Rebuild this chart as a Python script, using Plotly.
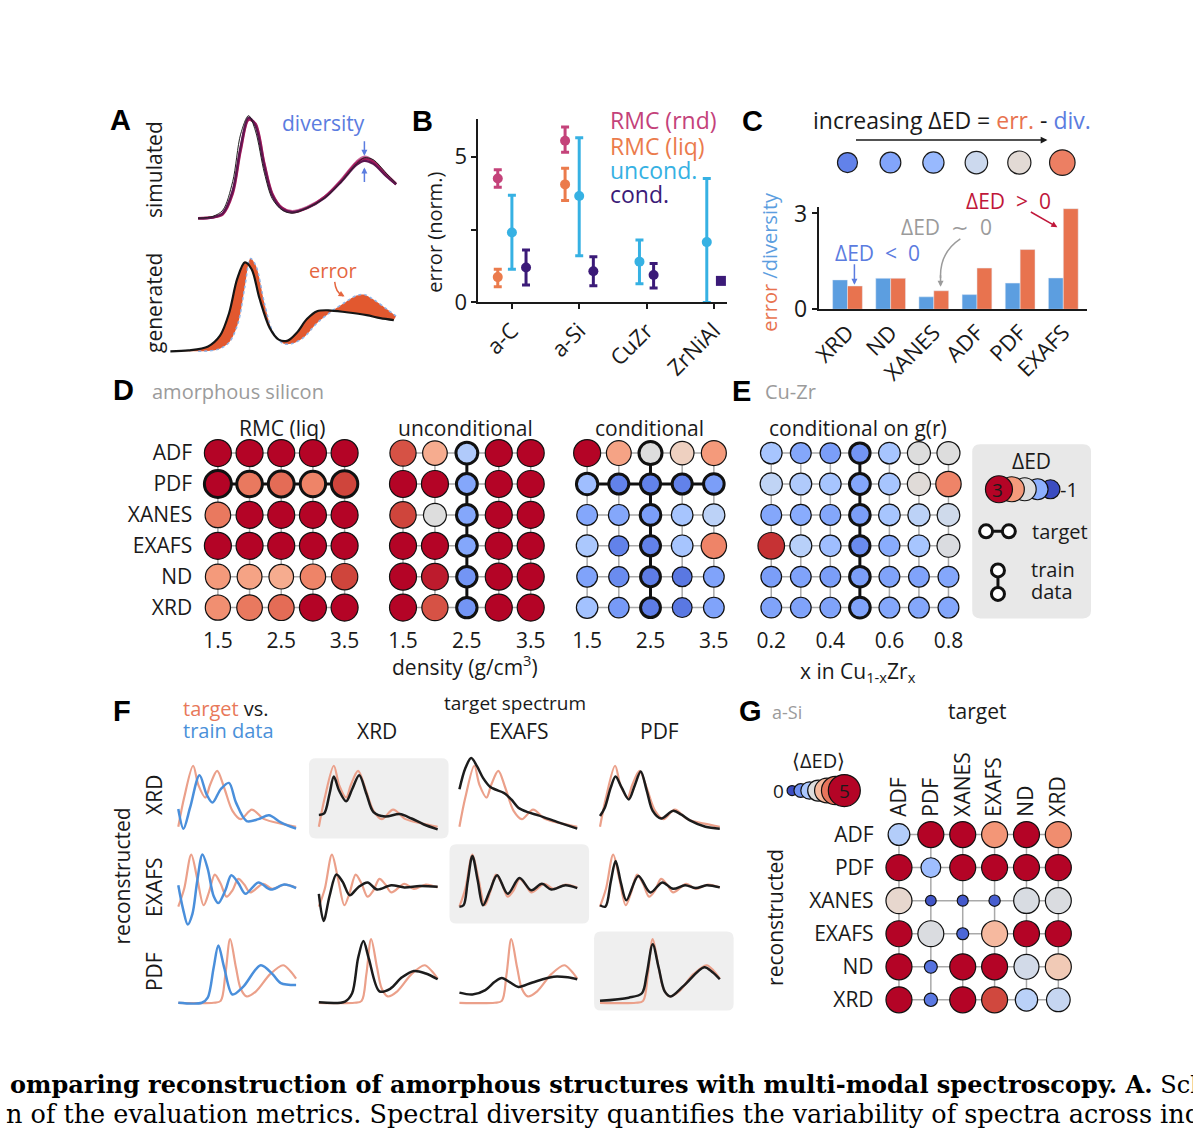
import plotly.graph_objects as go

W, H = 1193, 1142
FONT = "Open Sans"
BOLD = "Liberation Sans"
INK = "#1a1a1a"
GRAY_TXT = "#9b9b9b"
BLUE_TXT = "#5b7ce0"
ORANGE_TXT = "#e5663f"
NB = "\u00a0"

# ---------------- data ----------------
# A: simulated spectra (position u, intensity v, both normalised)
SIM_U = [0, 0.075, 0.125, 0.175, 0.215, 0.255, 0.29, 0.335, 0.375, 0.425, 0.475,
         0.55, 0.64, 0.725, 0.80, 0.84, 0.885, 0.95, 1.0]
SIM_BLACK = [0, 0.02, 0.08, 0.36, 0.82, 1.0, 0.85, 0.44, 0.19, 0.08, 0.05,
             0.10, 0.20, 0.36, 0.53, 0.59, 0.57, 0.44, 0.34]
SIM_PURPLE = [0, 0.01, 0.05, 0.27, 0.70, 0.98, 0.90, 0.50, 0.22, 0.09, 0.06,
              0.10, 0.20, 0.36, 0.52, 0.56, 0.53, 0.41, 0.33]
SIM_MAGENTA = [0, 0.01, 0.04, 0.24, 0.66, 0.96, 0.92, 0.53, 0.24, 0.10, 0.06,
               0.10, 0.21, 0.37, 0.54, 0.58, 0.55, 0.42, 0.33]
SIM_PLUM = [0, 0.01, 0.05, 0.26, 0.68, 0.97, 0.91, 0.52, 0.23, 0.10, 0.07,
            0.11, 0.21, 0.38, 0.55, 0.60, 0.56, 0.43, 0.34]

# A: generated (black) vs reference (filled) spectrum
GEN_U = [0, 0.08, 0.167, 0.22, 0.26, 0.296, 0.33, 0.36, 0.395, 0.44, 0.48, 0.52,
         0.56, 0.605, 0.65, 0.70, 0.78, 0.87, 0.93, 0.99]
GEN_V = [0, 0.01, 0.05, 0.16, 0.39, 0.74, 0.91, 0.84, 0.54, 0.24, 0.12, 0.11,
         0.19, 0.33, 0.41, 0.42, 0.40, 0.37, 0.34, 0.32]
REF_U = [0.123, 0.21, 0.26, 0.30, 0.33, 0.355, 0.38, 0.417, 0.456, 0.50, 0.54,
         0.59, 0.65, 0.715, 0.78, 0.825, 0.86, 0.90, 0.96, 1.0]
REF_V = [0, 0.02, 0.09, 0.29, 0.66, 0.95, 0.87, 0.49, 0.19, 0.08, 0.08,
         0.14, 0.29, 0.41, 0.51, 0.57, 0.58, 0.53, 0.43, 0.36]

# B: normalised error per system
SYSTEMS = ["a-C", "a-Si", "CuZr", "ZrNiAl"]
RND_MEAN = [4.25, 5.55, None, None]
RND_LO = [3.95, 5.15, None, None]
RND_HI = [4.55, 6.02, None, None]
LIQ_MEAN = [0.87, 4.05, None, None]
LIQ_LO = [0.54, 3.50, None, None]
LIQ_HI = [1.14, 4.60, None, None]
UNCOND_MEAN = [2.40, 3.65, 1.40, 2.07]
UNCOND_LO = [1.14, 1.60, 0.64, 0.0]
UNCOND_HI = [3.68, 5.65, 2.14, 4.25]
COND_MEAN = [1.20, 1.07, 0.94, 0.74]
COND_LO = [0.60, 0.57, 0.50, 0.74]
COND_HI = [1.80, 1.57, 1.34, 0.74]

# C: error / diversity per modality
C_MODALITIES = ["XRD", "ND", "XANES", "ADF", "PDF", "EXAFS"]
C_DIVERSITY = [0.92, 0.97, 0.39, 0.46, 0.82, 0.98]
C_ERROR = [0.73, 0.97, 0.58, 1.29, 1.87, 3.15]
C_SCALE_DED = [-0.5, -0.12, 0.12, 0.75, 1.08, 2.25]

# D / E: ΔED grids (rows = spectra, columns = density or composition)
SPECTRA = ["ADF", "PDF", "XANES", "EXAFS", "ND", "XRD"]
DENSITY = [1.5, 2.0, 2.5, 3.0, 3.5]
CUZR_X = [0.2, 0.3, 0.4, 0.5, 0.6, 0.7, 0.8]

RMC_DED = [
    [3.5, 3.5, 3.5, 3.5, 3.5],
    [3.5, 2.3, 2.4, 2.2, 2.7],
    [2.3, 3.5, 3.5, 3.5, 3.5],
    [3.5, 3.5, 3.5, 3.5, 3.5],
    [2.0, 1.9, 1.8, 2.2, 2.7],
    [2.1, 2.3, 2.4, 3.5, 3.5],
]
UNCOND_DED = [
    [2.6, 1.8, 0.4, 3.5, 3.5],
    [3.5, 3.5, -0.1, 3.5, 3.5],
    [2.7, 1.0, -0.1, 3.5, 3.5],
    [3.5, 3.5, -0.1, 3.5, 3.5],
    [3.5, 2.9, -0.3, 3.5, 3.5],
    [3.5, 2.6, -0.3, 3.5, 3.5],
]
COND_DED = [
    [3.5, 1.9, 1.0, 1.3, 2.0],
    [0.2, -0.5, -0.5, -0.5, -0.2],
    [-0.1, -0.1, -0.2, 0.3, 0.55],
    [0.35, -0.5, -0.5, 0.3, 2.2],
    [-0.15, -0.4, -0.55, -0.6, -0.15],
    [0.25, -0.25, -0.55, -0.6, -0.15],
]
CUZR_DED = [
    [0.3, -0.1, -0.2, -0.3, 0.3, 1.0, 1.0],
    [0.6, 0.4, 0.3, -0.1, 0.3, 1.05, 2.2],
    [-0.1, -0.05, -0.1, -0.2, 0.3, 0.55, 0.8],
    [2.8, 0.5, 0.2, -0.4, -0.05, 0.3, 0.95],
    [-0.2, -0.15, -0.2, -0.2, -0.15, -0.15, -0.1],
    [-0.15, -0.15, -0.15, -0.15, -0.1, -0.1, -0.1],
]
RMC_TARGET_ROWS, RMC_TARGET_COLS = ["PDF"], []
UNCOND_TARGET_ROWS, UNCOND_TARGET_COLS = [], [2.5]
COND_TARGET_ROWS, COND_TARGET_COLS = ["PDF"], [2.5]
CUZR_TARGET_ROWS, CUZR_TARGET_COLS = [], [0.5]
LEGEND_DED = [-1, 0, 1, 2, 3]

# F: spectra (u, v) per row modality
XRD_TARGET_U = [0, 0.05, 0.126, 0.17, 0.23, 0.27, 0.33, 0.39, 0.46, 0.53, 0.625, 0.73, 0.87, 1.0]
XRD_TARGET_V = [0.03, 0.49, 0.99, 0.69, 0.49, 0.69, 0.91, 0.64, 0.28, 0.15, 0.30, 0.15, 0.08, 0.03]
XRD_TRAIN_U = [0, 0.044, 0.10, 0.18, 0.24, 0.29, 0.36, 0.43, 0.49, 0.58, 0.68, 0.77, 0.87, 1.0]
XRD_TRAIN_V = [0.31, 0.0, 0.33, 0.84, 0.54, 0.41, 0.62, 0.72, 0.41, 0.12, 0.15, 0.21, 0.10, 0.0]
XRD_REC_XRD_U = [0, 0.045, 0.09, 0.126, 0.17, 0.23, 0.28, 0.34, 0.40, 0.46, 0.56, 0.68, 0.78, 0.88, 1.0]
XRD_REC_XRD_V = [0.215, 0.24, 0.55, 0.82, 0.60, 0.43, 0.62, 0.84, 0.55, 0.26, 0.19, 0.23, 0.16, 0.07, -0.01]
XRD_REC_EXAFS_U = [0, 0.05, 0.10, 0.15, 0.20, 0.26, 0.30, 0.38, 0.44, 0.50, 0.58, 0.67, 0.84, 1.0]
XRD_REC_EXAFS_V = [0.62, 0.95, 1.11, 0.98, 0.80, 0.66, 0.62, 0.56, 0.46, 0.33, 0.26, 0.21, 0.10, 0.0]
XRD_REC_PDF_U = [0, 0.04, 0.09, 0.13, 0.18, 0.24, 0.29, 0.34, 0.39, 0.44, 0.51, 0.61, 0.68, 0.75, 0.88, 1.0]
XRD_REC_PDF_V = [0.2, 0.33, 0.65, 0.82, 0.65, 0.46, 0.68, 0.90, 0.60, 0.28, 0.16, 0.28, 0.22, 0.13, 0.03, 0.0]

EXAFS_TARGET_U = [0, 0.05, 0.11, 0.16, 0.215, 0.26, 0.31, 0.36, 0.41, 0.46, 0.51, 0.56, 0.61, 0.72, 0.80, 0.90, 1.0]
EXAFS_TARGET_V = [0.25, 0.50, 0.98, 0.65, 0.27, 0.45, 0.70, 0.57, 0.39, 0.48, 0.64, 0.56, 0.45, 0.57, 0.50, 0.56, 0.52]
EXAFS_TRAIN_U = [0, 0.04, 0.08, 0.12, 0.16, 0.205, 0.25, 0.30, 0.34, 0.40, 0.45, 0.51, 0.57, 0.68, 0.785, 0.90, 1.0]
EXAFS_TRAIN_V = [0.55, 0.22, 0.0, 0.15, 0.60, 0.98, 0.78, 0.40, 0.30, 0.48, 0.69, 0.58, 0.43, 0.59, 0.49, 0.56, 0.51]
EXAFS_REC_XRD_U = [0, 0.04, 0.09, 0.147, 0.20, 0.26, 0.33, 0.41, 0.49, 0.61, 0.72, 0.85, 1.0]
EXAFS_REC_XRD_V = [0.43, 0.05, 0.40, 0.70, 0.60, 0.41, 0.52, 0.59, 0.49, 0.55, 0.52, 0.54, 0.53]
EXAFS_REC_EXAFS_U = [0, 0.035, 0.07, 0.11, 0.155, 0.20, 0.26, 0.32, 0.41, 0.51, 0.61, 0.70, 0.78, 0.90, 1.0]
EXAFS_REC_EXAFS_V = [0.25, 0.27, 0.60, 0.96, 0.62, 0.27, 0.48, 0.69, 0.43, 0.65, 0.48, 0.57, 0.49, 0.55, 0.51]
EXAFS_REC_PDF_U = [0, 0.045, 0.09, 0.13, 0.175, 0.22, 0.32, 0.42, 0.52, 0.61, 0.71, 0.80, 0.89, 1.0]
EXAFS_REC_PDF_V = [0.27, 0.25, 0.60, 0.89, 0.58, 0.34, 0.68, 0.45, 0.59, 0.50, 0.55, 0.51, 0.55, 0.52]

PDF_TARGET_U = [0, 0.30, 0.36, 0.40, 0.44, 0.49, 0.53, 0.58, 0.66, 0.78, 0.89, 0.95, 1.0]
PDF_TARGET_V = [0, 0.0, 0.03, 0.45, 1.0, 0.55, 0.22, 0.10, 0.18, 0.45, 0.59, 0.50, 0.38]
PDF_TRAIN_U = [0, 0.20, 0.25, 0.30, 0.34, 0.39, 0.46, 0.55, 0.70, 0.80, 0.87, 1.0]
PDF_TRAIN_V = [0, 0.0, 0.08, 0.55, 0.90, 0.55, 0.13, 0.25, 0.59, 0.45, 0.31, 0.28]
PDF_REC_XRD_U = [0, 0.22, 0.28, 0.33, 0.375, 0.42, 0.51, 0.60, 0.70, 0.80, 0.90, 1.0]
PDF_REC_XRD_V = [0.01, 0.02, 0.15, 0.70, 0.97, 0.70, 0.18, 0.22, 0.40, 0.50, 0.46, 0.37]
PDF_REC_EXAFS_U = [0, 0.11, 0.22, 0.30, 0.36, 0.43, 0.50, 0.62, 0.80, 0.92, 1.0]
PDF_REC_EXAFS_V = [0.16, 0.13, 0.20, 0.33, 0.39, 0.32, 0.25, 0.32, 0.41, 0.40, 0.37]
PDF_REC_PDF_U = [0, 0.24, 0.35, 0.39, 0.44, 0.49, 0.54, 0.59, 0.70, 0.87, 0.94, 1.0]
PDF_REC_PDF_V = [0.03, 0.08, 0.15, 0.45, 0.92, 0.55, 0.18, 0.10, 0.27, 0.56, 0.48, 0.37]

# G: <ΔED> matrix (rows reconstructed, columns target)
G_LABELS = ["ADF", "PDF", "XANES", "EXAFS", "ND", "XRD"]
G_DED = [
    [1.8, 5.5, 5.5, 3.8, 5.5, 3.9],
    [5.5, 1.5, 5.5, 5.5, 5.5, 5.5],
    [2.7, 0.1, 0.15, 0.2, 2.4, 2.45],
    [5.5, 2.45, 0.3, 3.3, 5.5, 5.5],
    [5.5, 0.45, 5.5, 5.5, 2.3, 3.0],
    [5.5, 0.5, 5.5, 4.6, 1.9, 2.1],
]
G_LEGEND = [0, 0.83, 1.67, 2.5, 3.33, 4.17, 5]

# ---------------- styling helpers ----------------
COOLWARM = [
    [0.0, "rgb(59,76,192)"], [0.0625, "rgb(77,104,215)"], [0.125, "rgb(98,130,234)"],
    [0.1875, "rgb(119,154,247)"], [0.25, "rgb(141,176,254)"], [0.3125, "rgb(163,194,255)"],
    [0.375, "rgb(184,208,249)"], [0.4375, "rgb(204,217,238)"], [0.5, "rgb(221,221,221)"],
    [0.5625, "rgb(236,211,197)"], [0.625, "rgb(245,196,172)"], [0.6875, "rgb(247,177,148)"],
    [0.75, "rgb(244,154,123)"], [0.8125, "rgb(236,127,99)"], [0.875, "rgb(222,96,77)"],
    [0.9375, "rgb(203,62,56)"], [1.0, "rgb(180,4,38)"],
]

fig = go.Figure()
layout = {}
annotations = []
shapes = []
n_axes = [0]


def P(x, y):
    return f"{x / W:.5f},{1 - y / H:.5f}"


def dom(m, r):
    v0, p0, v1, p1 = m
    return [p0 + (q - v0) * (p1 - p0) / (v1 - v0) for q in r]


def add_axes(xmap, xr, ymap, yr, xextra=None, yextra=None):
    n_axes[0] += 1
    k = "" if n_axes[0] == 1 else str(n_axes[0])
    xp = sorted(dom(xmap, xr))
    yp = sorted(dom(ymap, yr))
    base = dict(showgrid=False, zeroline=False, showline=False, showticklabels=False,
                ticks="", fixedrange=True)
    xa = dict(base, domain=[xp[0] / W, xp[1] / W], range=xr, anchor="y" + k)
    ya = dict(base, domain=[1 - yp[1] / H, 1 - yp[0] / H], range=yr, anchor="x" + k)
    xa.update(xextra or {})
    ya.update(yextra or {})
    layout["xaxis" + k] = xa
    layout["yaxis" + k] = ya
    return "x" + k, "y" + k


def text(x, y, s, size=21, color=INK, xanchor="center", angle=0, family=FONT):
    annotations.append(dict(x=x / W, y=1 - y / H, xref="paper", yref="paper", text=s,
                            showarrow=False, xanchor=xanchor, yanchor="middle",
                            textangle=angle, font=dict(size=size, color=color, family=family)))


def letter(x, y, s):
    text(x, y, f"<b>{s}</b>", size=29, family=BOLD, color="#000")


def arrow(x0, y0, x1, y1, color, width=1.5, head=2, size=1.0):
    annotations.append(dict(x=x1 / W, y=1 - y1 / H, ax=x0 - x1, ay=y0 - y1,
                            xref="paper", yref="paper", axref="pixel", ayref="pixel",
                            text="", showarrow=True, arrowhead=head, arrowsize=size,
                            arrowwidth=width, arrowcolor=color, standoff=0))


def curve_path(path, color, width=1.5):
    shapes.append(dict(type="path", xref="paper", yref="paper", path=path,
                       line=dict(color=color, width=width)))


def rounded_box(x0, y0, x1, y1, r, fill):
    path = (f"M {P(x0 + r, y0)} L {P(x1 - r, y0)} Q {P(x1, y0)} {P(x1, y0 + r)} "
            f"L {P(x1, y1 - r)} Q {P(x1, y1)} {P(x1 - r, y1)} L {P(x0 + r, y1)} "
            f"Q {P(x0, y1)} {P(x0, y1 - r)} L {P(x0, y0 + r)} Q {P(x0, y0)} {P(x0 + r, y0)} Z")
    shapes.append(dict(type="path", xref="paper", yref="paper", path=path,
                       fillcolor=fill, line=dict(width=0), layer="below"))


def line(ax, x, y, color, width, spline=True, **kw):
    fig.add_trace(go.Scatter(
        x=x, y=y, xaxis=ax[0], yaxis=ax[1], mode="lines",
        line=dict(color=color, width=width, shape="spline" if spline else "linear",
                  smoothing=0.9),
        hoverinfo="skip", showlegend=False, **kw))


def dots(ax, x, y, **marker):
    fig.add_trace(go.Scatter(
        x=x, y=y, xaxis=ax[0], yaxis=ax[1], mode="markers", cliponaxis=False,
        hoverinfo="skip", showlegend=False, marker=dict(opacity=1, **marker)))


def ded_size(v):
    return max(19, min(27, 21 + 2 * v))


def g_size(v):
    return min(26, 10 + 6.5 * v)


def tickfont(size):
    return dict(size=size, family=FONT, color=INK)


# ---------------- A ----------------
letter(112, 112, "A")
ax = add_axes((0, 190, 1, 390), [-0.02, 1.02], (0, 213, 1, 108), [-0.05, 1.1])
line(ax, SIM_U, SIM_PLUM, "#c46a9a", 2.5)
line(ax, SIM_U, SIM_MAGENTA, "#a3195b", 2.5)
line(ax, SIM_U, SIM_PURPLE, "#5e1650", 2.2)
line(ax, SIM_U, SIM_BLACK, "#222222", 1.0)
text(146, 163, "simulated")
annotations[-1]["textangle"] = -90
text(317, 116, "diversity", color=BLUE_TXT)
arrow(358, 133, 358, 149, BLUE_TXT, width=1.5, head=2, size=0.8)
arrow(358, 177, 358, 161, BLUE_TXT, width=1.5, head=2, size=0.8)

ax = add_axes((0, 162, 1, 390), [-0.02, 1.02], (0, 349, 1, 249), [-0.05, 1.08])
line(ax, GEN_U, GEN_V, "rgba(0,0,0,0)", 1)
line(ax, REF_U, REF_V, "#8fb3e6", 1.5, fill="tonexty", fillcolor="#e2582f")
fig.data[-1].line.dash = "dot"
line(ax, GEN_U, GEN_V, "#151515", 2.2)
text(146, 300, "generated", angle=-90)
text(326, 266, "error", size=20, color=ORANGE_TXT)
curve_path(f"M {P(328, 278)} Q {P(329, 289)} {P(336, 292)}", ORANGE_TXT, 1.5)
arrow(333, 290, 338, 293, ORANGE_TXT, width=1.5, head=2, size=0.8)

# ---------------- B ----------------
letter(417, 113, "B")
ax = add_axes((0, 507, 3, 711), [-0.5, 3.2], (0, 299, 5, 150), [0, 6.3],
              xextra=dict(showline=True, linecolor=INK, linewidth=1.5, ticks="outside",
                          ticklen=5, tickwidth=1.5, tickcolor=INK, showticklabels=True,
                          tickvals=list(range(len(SYSTEMS))), ticktext=SYSTEMS,
                          tickangle=-45, tickfont=tickfont(22)),
              yextra=dict(showline=True, linecolor=INK, linewidth=1.5, ticks="outside",
                          ticklen=5, tickwidth=1.5, tickcolor=INK, showticklabels=True,
                          tickvals=[0, 2.5, 5], ticktext=["0", "", "5"],
                          tickfont=tickfont(22)))

B_SERIES = [
    ("rnd", 0, RND_MEAN, RND_LO, RND_HI, "#c4427a"),
    ("liq", 0, LIQ_MEAN, LIQ_LO, LIQ_HI, "#eb7b4c"),
    ("uncond", 1, UNCOND_MEAN, UNCOND_LO, UNCOND_HI, "#36b1e3"),
    ("cond", 2, COND_MEAN, COND_LO, COND_HI, "#3b1a78"),
]


def slot_offset(i, slot):
    present = sorted({s[1] for s in B_SERIES if s[2][i] is not None})
    n = len(present)
    return (present.index(slot) - (n - 1) / 2) * 0.21


for name, slot, mean, lo, hi, color in B_SERIES:
    idx = [i for i, m in enumerate(mean) if m is not None]
    xs = [i + slot_offset(i, slot) for i in idx]
    ys = [mean[i] for i in idx]
    sym = ["square" if hi[i] == lo[i] else "circle" for i in idx]
    fig.add_trace(go.Scatter(
        x=xs, y=ys, xaxis=ax[0], yaxis=ax[1], mode="markers",
        marker=dict(color=color, size=10, symbol=sym, opacity=1),
        error_y=dict(type="data", symmetric=False,
                     array=[hi[i] - mean[i] for i in idx],
                     arrayminus=[mean[i] - lo[i] for i in idx],
                     color=color, thickness=3, width=4),
        cliponaxis=False, hoverinfo="skip", showlegend=False))

text(604, 112, "RMC (rnd)", size=23, color="#c4427a", xanchor="left")
text(604, 139, "RMC (liq)", size=23, color="#eb7b4c", xanchor="left")
text(604, 164, "uncond.", size=23, color="#36b1e3", xanchor="left")
text(604, 188, "cond.", size=23, color="#3b1a78", xanchor="left")
text(428, 227, "error (norm.)", size=20, angle=-90)

# ---------------- C ----------------
letter(750, 113, "C")
text(809, 112, f'increasing ΔED{NB}={NB}<span style="color:#e8734f">err.</span> - '
     '<span style="color:#5b7ce0">div.</span>', size=23, xanchor="left")
arrow(855, 133, 1048, 133, INK, width=1.5, head=2, size=0.9)
ax = add_axes((0, 846, 5, 1063), [-0.6, 5.6], (0, 156, 1, 146), [-1, 1])
dots(ax, list(range(len(C_SCALE_DED))), [0] * len(C_SCALE_DED),
     color=C_SCALE_DED, colorscale=COOLWARM, cmin=-1, cmax=3,
     size=[ded_size(v) for v in C_SCALE_DED], line=dict(color=INK, width=1.2))

ax = add_axes((0, 846, 5, 1064), [-0.67, 5.55], (0, 306, 3, 208), [0, 3.2],
              xextra=dict(showline=True, linecolor=INK, linewidth=1.5, showticklabels=True,
                          tickvals=list(range(len(C_MODALITIES))), ticktext=C_MODALITIES,
                          tickangle=-45, tickfont=tickfont(22)),
              yextra=dict(showline=True, linecolor=INK, linewidth=1.5, ticks="outside",
                          ticklen=5, tickwidth=1.5, tickcolor=INK, showticklabels=True,
                          tickvals=[0, 3], tickfont=tickfont(23)))
x_c = list(range(len(C_MODALITIES)))
fig.add_trace(go.Bar(x=x_c, y=C_DIVERSITY, xaxis=ax[0], yaxis=ax[1], marker_color="#5c9ee0",
                     offsetgroup="div", hoverinfo="skip", showlegend=False))
fig.add_trace(go.Bar(x=x_c, y=C_ERROR, xaxis=ax[0], yaxis=ax[1], marker_color="#e8734f",
                     offsetgroup="err", hoverinfo="skip", showlegend=False))
text(767, 257, '<span style="color:#e8734f">error</span> '
     '<span style="color:#5c9ee0">/diversity</span>', size=20, angle=-90)
text(876, 248, f"ΔED{NB}{NB}&lt;{NB}{NB}0", size=21, color=BLUE_TXT)
arrow(853, 259, 853, 281, BLUE_TXT, width=1.5, head=2, size=0.8)
text(946, 222, f"ΔED{NB}{NB}∼{NB}{NB}0", size=21, color=GRAY_TXT)
curve_path(f"M {P(960, 234)} Q {P(939, 248)} {P(940, 274)}", GRAY_TXT, 1.5)
arrow(940, 270, 940, 283, GRAY_TXT, width=1.5, head=2, size=0.8)
text(1009, 195, f"ΔED{NB}{NB}&gt;{NB}{NB}0", size=21, color="#c0173a")
arrow(1030, 206, 1058, 222, "#c0173a", width=1.5, head=2, size=0.8)

# ---------------- D / E grids ----------------
letter(115, 388, "D")
text(141, 390, "amorphous silicon", size=20, color=GRAY_TXT, xanchor="left")
letter(739, 390, "E")
text(761, 390, "Cu-Zr", size=20, color=GRAY_TXT, xanchor="left")

ROW_MAP = (0, 453, 5, 611)
ROW_RANGE = [5.45, -0.45]


def grid_panel(ax, xs, values, target_rows, target_cols, cmin, cmax, size_fn):
    rows = list(range(len(values)))
    for i in rows:
        line(ax, xs, [i] * len(xs), "#a9a9a9", 1.5, spline=False)
    for x in xs:
        line(ax, [x] * len(rows), rows, "#a9a9a9", 1.5, spline=False)
    for r in target_rows:
        i = SPECTRA.index(r)
        line(ax, xs, [i] * len(xs), "#111111", 3, spline=False)
    for c in target_cols:
        line(ax, [c] * len(rows), rows, "#111111", 3, spline=False)
    mx, my, mv, lw = [], [], [], []
    for i, row in enumerate(values):
        for j, v in enumerate(row):
            mx.append(xs[j])
            my.append(i)
            mv.append(v)
            thick = SPECTRA[i] in target_rows or xs[j] in target_cols
            lw.append(3 if thick else 1.2)
    dots(ax, mx, my, color=mv, colorscale=COOLWARM, cmin=cmin, cmax=cmax,
         size=[size_fn(v) for v in mv], line=dict(color="#111111", width=lw))


def xticks(vals, labels):
    return dict(showticklabels=True, tickvals=vals, ticktext=labels, ticklabelstandoff=4,
                tickfont=tickfont(21))


row_ticks = dict(showticklabels=True, tickvals=list(range(len(SPECTRA))), ticktext=SPECTRA,
                 ticklabelstandoff=12, tickfont=tickfont(21))

ax = add_axes((1.5, 210, 3.5, 338), [1.3, 3.7], ROW_MAP, ROW_RANGE,
              xextra=xticks([1.5, 2.5, 3.5], ["1.5", "2.5", "3.5"]), yextra=row_ticks)
grid_panel(ax, DENSITY, RMC_DED, RMC_TARGET_ROWS, RMC_TARGET_COLS, -1, 3, ded_size)
text(275, 427, "RMC (liq)")

ax = add_axes((1.5, 397, 3.5, 526), [1.3, 3.7], ROW_MAP, ROW_RANGE,
              xextra=xticks([1.5, 2.5, 3.5], ["1.5", "2.5", "3.5"]))
grid_panel(ax, DENSITY, UNCOND_DED, UNCOND_TARGET_ROWS, UNCOND_TARGET_COLS, -1, 3, ded_size)
text(460, 427, "unconditional")
text(460, 670, "density (g/cm<sup>3</sup>)")

ax = add_axes((1.5, 583, 3.5, 711), [1.3, 3.7], ROW_MAP, ROW_RANGE,
              xextra=xticks([1.5, 2.5, 3.5], ["1.5", "2.5", "3.5"]))
grid_panel(ax, DENSITY, COND_DED, COND_TARGET_ROWS, COND_TARGET_COLS, -1, 3, ded_size)
text(646, 427, "conditional")

ax = add_axes((0.2, 769, 0.8, 948), [0.15, 0.85], ROW_MAP, ROW_RANGE,
              xextra=xticks([0.2, 0.4, 0.6, 0.8], ["0.2", "0.4", "0.6", "0.8"]))
grid_panel(ax, CUZR_X, CUZR_DED, CUZR_TARGET_ROWS, CUZR_TARGET_COLS, -1, 3, ded_size)
text(857, 427, "conditional on g(r)")
text(857, 677, "x in Cu<sub>1-x</sub>Zr<sub>x</sub>")

# ΔED legend box
rounded_box(972, 444, 1092, 622, 8, "#e8e8e8")
ax = add_axes((972, 972, 1092, 1092), [972, 1092], (444, 444, 622, 622), [622, 444])
dots(ax, [1051 - 13 * i for i in range(len(LEGEND_DED))], [490] * len(LEGEND_DED),
     color=LEGEND_DED, colorscale=COOLWARM, cmin=-1, cmax=3,
     size=[ded_size(v) for v in LEGEND_DED], line=dict(color="#111111", width=1.2))
line(ax, [986, 1009], [533, 533], "#111111", 3, spline=False)
line(ax, [998, 998], [573, 597], "#111111", 3, spline=False)
dots(ax, [986, 1009, 998, 998], [533, 533, 573, 597], color="white", size=13,
     line=dict(color="#111111", width=3))
text(1032, 461, "ΔED")
text(998, 491, "3", size=19)
text(1070, 490, "-1", size=20)
text(1030, 533, "target", size=20, xanchor="left")
text(1029, 572, "train", size=20, xanchor="left")
text(1029, 595, "data", size=20, xanchor="left")

# ---------------- F ----------------
letter(113, 717, "F")
text(173, 714, '<span style="color:#e8795a">target</span> vs.', size=20, xanchor="left")
text(173, 737, "train data", size=20, color="#4a90d9", xanchor="left")
text(510, 709, "target spectrum", size=19)
text(371, 737, "XRD")
text(514, 737, "EXAFS")
text(656, 737, "PDF")
text(113, 885, "reconstructed", angle=-90)

rounded_box(302, 765, 443, 847, 7, "#efefef")
rounded_box(444, 853, 585, 934, 7, "#efefef")
rounded_box(590, 942, 731, 1023, 7, "#efefef")

F_ROWS = ["XRD", "EXAFS", "PDF"]
F_TARGETS = ["XRD", "EXAFS", "PDF"]
F_ROW_PX = {"XRD": (837, 772, 803), "EXAFS": (935, 862, 897), "PDF": (1015, 950, 983)}
F_COL_PX = [(170, 289), (312, 432), (454, 573), (596, 717)]
TARGET_CURVES = {
    "XRD": (XRD_TARGET_U, XRD_TARGET_V),
    "EXAFS": (EXAFS_TARGET_U, EXAFS_TARGET_V),
    "PDF": (PDF_TARGET_U, PDF_TARGET_V),
}
TRAIN_CURVES = {
    "XRD": (XRD_TRAIN_U, XRD_TRAIN_V),
    "EXAFS": (EXAFS_TRAIN_U, EXAFS_TRAIN_V),
    "PDF": (PDF_TRAIN_U, PDF_TRAIN_V),
}
REC_CURVES = {
    ("XRD", "XRD"): (XRD_REC_XRD_U, XRD_REC_XRD_V),
    ("XRD", "EXAFS"): (XRD_REC_EXAFS_U, XRD_REC_EXAFS_V),
    ("XRD", "PDF"): (XRD_REC_PDF_U, XRD_REC_PDF_V),
    ("EXAFS", "XRD"): (EXAFS_REC_XRD_U, EXAFS_REC_XRD_V),
    ("EXAFS", "EXAFS"): (EXAFS_REC_EXAFS_U, EXAFS_REC_EXAFS_V),
    ("EXAFS", "PDF"): (EXAFS_REC_PDF_U, EXAFS_REC_PDF_V),
    ("PDF", "XRD"): (PDF_REC_XRD_U, PDF_REC_XRD_V),
    ("PDF", "EXAFS"): (PDF_REC_EXAFS_U, PDF_REC_EXAFS_V),
    ("PDF", "PDF"): (PDF_REC_PDF_U, PDF_REC_PDF_V),
}
for row in F_ROWS:
    y0, y1, ylab = F_ROW_PX[row]
    text(146, ylab, row, angle=-90)
    for c, (x0, x1) in enumerate(F_COL_PX):
        ax = add_axes((0, x0, 1, x1), [-0.03, 1.03], (0, y0, 1, y1), [-0.12, 1.18])
        tu, tv = TARGET_CURVES[row]
        line(ax, tu, tv, "#eba08a", 2.2)
        if c == 0:
            bu, bv = TRAIN_CURVES[row]
            line(ax, bu, bv, "#4a8fdb", 2.5)
        else:
            ru, rv = REC_CURVES[(row, F_TARGETS[c - 1])]
            line(ax, ru, rv, "#1c1c1c", 2.5)

# ---------------- G ----------------
letter(748, 717, "G")
text(768, 718, "a-Si", size=18, color=GRAY_TXT, xanchor="left")
text(977, 717, "target")
text(772, 928, "reconstructed", angle=-90)
ax = add_axes((0, 898, 5, 1059), [-0.45, 5.45], (0, 843, 5, 1012), [5.45, -0.45],
              xextra=dict(showticklabels=True, side="top", tickvals=list(range(len(G_LABELS))),
                          ticktext=G_LABELS, tickangle=-90, ticklabelstandoff=2,
                          tickfont=tickfont(21)),
              yextra=dict(showticklabels=True, tickvals=list(range(len(G_LABELS))),
                          ticktext=G_LABELS, ticklabelstandoff=10, tickfont=tickfont(21)))
g_idx = list(range(len(G_LABELS)))
for i in g_idx:
    line(ax, g_idx, [i] * len(g_idx), "#a9a9a9", 1.5, spline=False)
    line(ax, [i] * len(g_idx), g_idx, "#a9a9a9", 1.5, spline=False)
gx, gy, gv = [], [], []
for i, row in enumerate(G_DED):
    for j, v in enumerate(row):
        gx.append(j)
        gy.append(i)
        gv.append(v)
dots(ax, gx, gy, color=gv, colorscale=COOLWARM, cmin=0, cmax=5,
     size=[g_size(v) for v in gv], line=dict(color="#111111", width=1.2))

# <ΔED> legend
text(817, 767, "⟨ΔED⟩", size=20)
ax = add_axes((780, 780, 860, 860), [780, 860], (785, 785, 812, 812), [812, 785])
dots(ax, [790 + 8.8 * i for i in range(len(G_LEGEND))], [798] * len(G_LEGEND),
     color=G_LEGEND, colorscale=COOLWARM, cmin=0, cmax=5,
     size=[10 + 4.4 * v for v in G_LEGEND], line=dict(color="#111111", width=1.2))
text(776, 798, "0", size=19)
text(843, 798, "5", size=19)

# ---------------- caption ----------------
text(-2, 1099, "<b>omparing reconstruction of amorphous structures with multi-modal "
     "spectroscopy. A.</b> Sch", size=24, family="DejaVu Serif", color="#000",
     xanchor="left")
text(-6, 1129, "n of the evaluation metrics. Spectral diversity quantifies the variability "
     "of spectra across ind", size=25.5, family="DejaVu Serif", color="#000",
     xanchor="left")

fig.update_layout(
    width=W, height=H, margin=dict(l=0, r=0, t=0, b=0),
    paper_bgcolor="white", plot_bgcolor="rgba(0,0,0,0)",
    barmode="group", bargap=0.31, bargroupgap=0,
    showlegend=False, annotations=annotations, shapes=shapes,
    font=dict(family=FONT, color=INK), **layout)

fig.write_html("out.html", config={"displayModeBar": False},
               post_script="document.body.style.margin = '0px';")
